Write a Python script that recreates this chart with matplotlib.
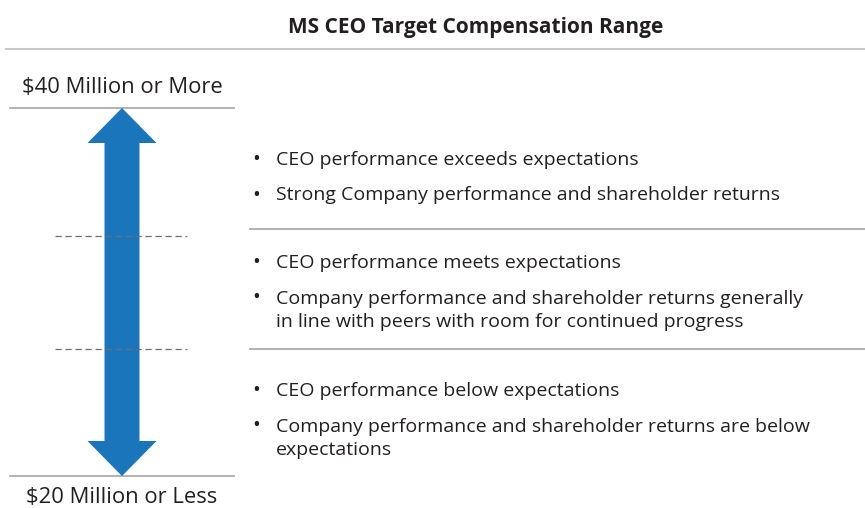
import matplotlib.pyplot as plt
from matplotlib.patches import Polygon

# Inhalt
title = "MS CEO Target Compensation Range"
top_label = "$40 Million or More"
bottom_label = "$20 Million or Less"

tiers = [
    ["CEO performance exceeds expectations",
     "Strong Company performance and shareholder returns"],
    ["CEO performance meets expectations",
     "Company performance and shareholder returns generally\nin line with peers with room for continued progress"],
    ["CEO performance below expectations",
     "Company performance and shareholder returns are below\nexpectations"],
]

# Layout in Pixel (y nach unten)
W, H = 865, 508
tier_dividers = [229, 349]           # graue Trennlinien rechts
dashed_y = [236, 349]                # gestrichelte Linien links
first_base = [165, 268, 396]         # Grundlinie der ersten Zeile je Stufe
arrow_x, arrow_top, arrow_bot = 122, 108, 476
shaft_w, head_w, head_len = 35, 69, 35

blue = "#1b75bb"
text_col = "#231f20"
line_col = "#ababab"

plt.rcParams['font.family'] = ['Open Sans', 'DejaVu Sans']

fig = plt.figure(figsize=(W / 100, H / 100), dpi=100)
ax = fig.add_axes([0, 0, 1, 1])
ax.set_xlim(0, W)
ax.set_ylim(H, 0)
ax.axis("off")

# Titel und Linie darunter
ax.text(476, 33, title, ha="center", va="baseline", fontsize=15,
        fontweight="bold", color=text_col)
ax.plot([6, W], [49, 49], color="#c8c8c8", lw=1.5)

# Beschriftungen oben/unten
ax.text(arrow_x, 93, top_label, ha="center", va="baseline", fontsize=15.8, color=text_col)
ax.plot([10, 234], [arrow_top, arrow_top], color=line_col, lw=1.3)
ax.plot([10, 234], [arrow_bot, arrow_bot], color=line_col, lw=1.3)
ax.text(arrow_x, 503, bottom_label, ha="center", va="baseline", fontsize=15.8, color=text_col)

# Doppelpfeil
hs, hh = shaft_w / 2, head_w / 2
pts = [
    (arrow_x, arrow_top),
    (arrow_x + hh, arrow_top + head_len),
    (arrow_x + hs, arrow_top + head_len),
    (arrow_x + hs, arrow_bot - head_len),
    (arrow_x + hh, arrow_bot - head_len),
    (arrow_x, arrow_bot),
    (arrow_x - hh, arrow_bot - head_len),
    (arrow_x - hs, arrow_bot - head_len),
    (arrow_x - hs, arrow_top + head_len),
    (arrow_x - hh, arrow_top + head_len),
]
ax.add_patch(Polygon(pts, closed=True, facecolor=blue, edgecolor="none", zorder=3))

# gestrichelte Linien
for y in dashed_y:
    ax.plot([55, 187], [y, y], color="#6f6f6f", lw=0.9, ls=(0, (5, 3)), zorder=4)

# rechte Trennlinien
for y in tier_dividers:
    ax.plot([250, W], [y, y], color=line_col, lw=1.3)

# Aufzählungen
for base, items in zip(first_base, tiers):
    y = base
    for item in items:
        ax.text(256, y, "\u2022", ha="center", va="baseline", fontsize=15, color=text_col)
        for ln in item.split("\n"):
            ax.text(276, y, ln, ha="left", va="baseline", fontsize=14, color=text_col)
            y += 23.5
        y += 12

fig.savefig("out.png", dpi=100)
